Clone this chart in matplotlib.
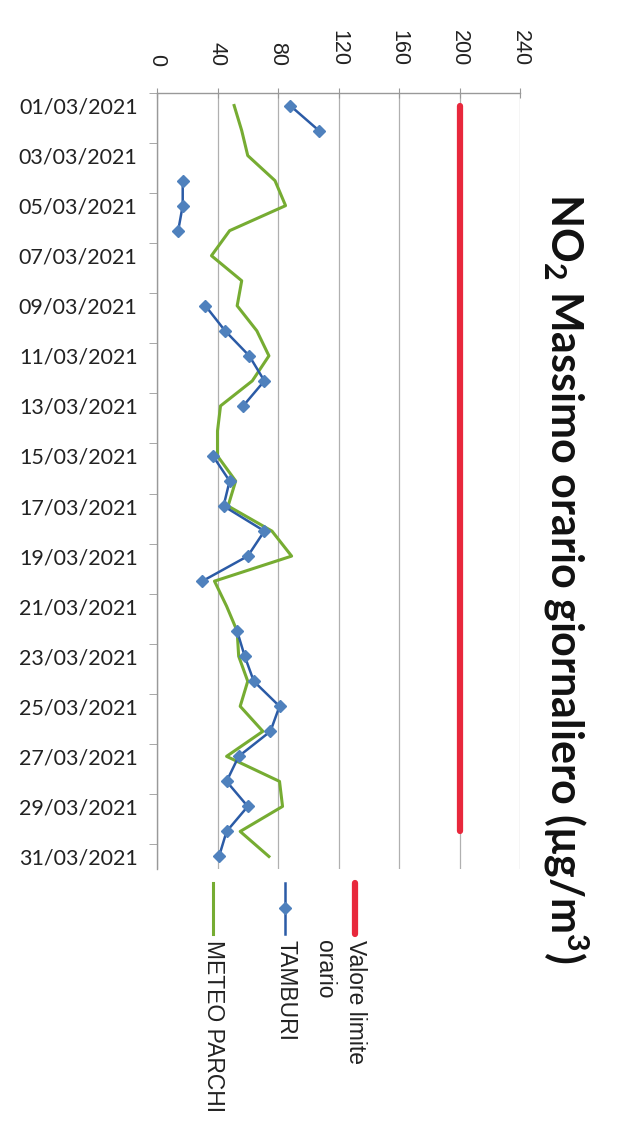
import numpy as np
import pandas as pd
import matplotlib
matplotlib.use('Agg')
import matplotlib.pyplot as plt
from matplotlib.lines import Line2D

nan = np.nan

# dati
date = pd.date_range('2021-03-01', periods=31).strftime('%d/%m/%Y').tolist()
tamburi = [88, 107, nan, 17, 17, 14, nan, nan, 32, 45, 61, 71, 57, nan, 37, 48,
           44, 71, 60, 30, nan, 53, 58, 64, 81, 75, 54, 46, 60, 46, 41]
meteo_parchi = [51, 56, 60, 78, 85, 48, 36, 56, 53, 66, 74, 63, 42, 40, 40, 52,
                47, 76, 89, 38, 46, 53, 54, 60, 55, 70, 46, 81, 83, 55, 74]
valore_limite = [200] * 30 + [nan]
tick_valori = [0, 40, 80, 120, 160, 200, 240]

W, H = 638, 1127
plt.rcParams['mathtext.fontset'] = 'custom'
plt.rcParams['mathtext.rm'] = 'Lato:bold'
plt.rcParams['mathtext.default'] = 'rm'

fig = plt.figure(figsize=(W / 100, H / 100), dpi=100)
fig.patch.set_facecolor('white')


def fx(x):
    return x / W


def fy(y):
    return 1 - y / H


ax = fig.add_axes([fx(157), fy(869), fx(520) - fx(157), fy(93) - fy(869)])

giorni = np.arange(len(date))
ax.plot(valore_limite, giorni, color='#E8283C', lw=4.5, solid_capstyle='round', zorder=3)
ax.plot(tamburi, giorni, color='#2B5BA6', lw=1.8, marker='D', ms=6.5,
        mfc='#4F81BD', mec='#4F81BD', zorder=4)
ax.plot(meteo_parchi, giorni, color='#76AC32', lw=2.2, zorder=3)

ax.set_xlim(0, 240)
ax.set_ylim(30.5, -0.5)

# asse valori in alto
ax.xaxis.tick_top()
ax.set_xticks(tick_valori)
ax.set_xticklabels([str(v) for v in tick_valori], rotation=-90,
                   family='Liberation Sans', fontsize=15.5, color='#222222')
ax.tick_params(axis='x', direction='inout', length=7, color='#999999', pad=16)
ax.grid(axis='x', color='#B0B0B0', lw=0.9)

# asse date
ax.set_yticks(giorni[::2])
ax.set_yticklabels(date[::2], family='Lato', fontsize=15.5, color='#222222')
ax.set_yticks(np.arange(-0.5, 31, 2), minor=True)
ax.tick_params(axis='y', which='major', length=0, pad=14)
ax.tick_params(axis='y', which='minor', length=6, color='#999999')

for s in ['right', 'bottom']:
    ax.spines[s].set_visible(False)
for s in ['top', 'left']:
    ax.spines[s].set_color('#999999')
    ax.spines[s].set_linewidth(1.0)

# titolo
fig.text(fx(566), fy(578), 'NO$_2$ Massimo orario giornaliero (µg/m$^3$)',
         rotation=-90, ha='center', va='center', family='Lato', weight='bold',
         fontsize=31, color='#111111')

# legenda
voci = [
    ('Valore limite\norario', 355, dict(color='#E8283C', lw=4.5, solid_capstyle='round')),
    ('TAMBURI', 285, dict(color='#2B5BA6', lw=1.8)),
    ('METEO PARCHI', 213, dict(color='#76AC32', lw=2.2)),
]
for testo, x, stile in voci:
    fig.add_artist(Line2D([fx(x), fx(x)], [fy(883), fy(934)], transform=fig.transFigure, **stile))
    fig.text(fx(x + 12), fy(940), testo, rotation=-90, rotation_mode='anchor',
             ha='left', va='top', family='Liberation Sans', fontsize=16.5,
             color='#222222', linespacing=1.45)
fig.add_artist(Line2D([fx(285)], [fy(908)], transform=fig.transFigure, marker='D',
                      ms=6.5, mfc='#4F81BD', mec='#4F81BD', lw=0))

fig.savefig('out.png', dpi=100)
